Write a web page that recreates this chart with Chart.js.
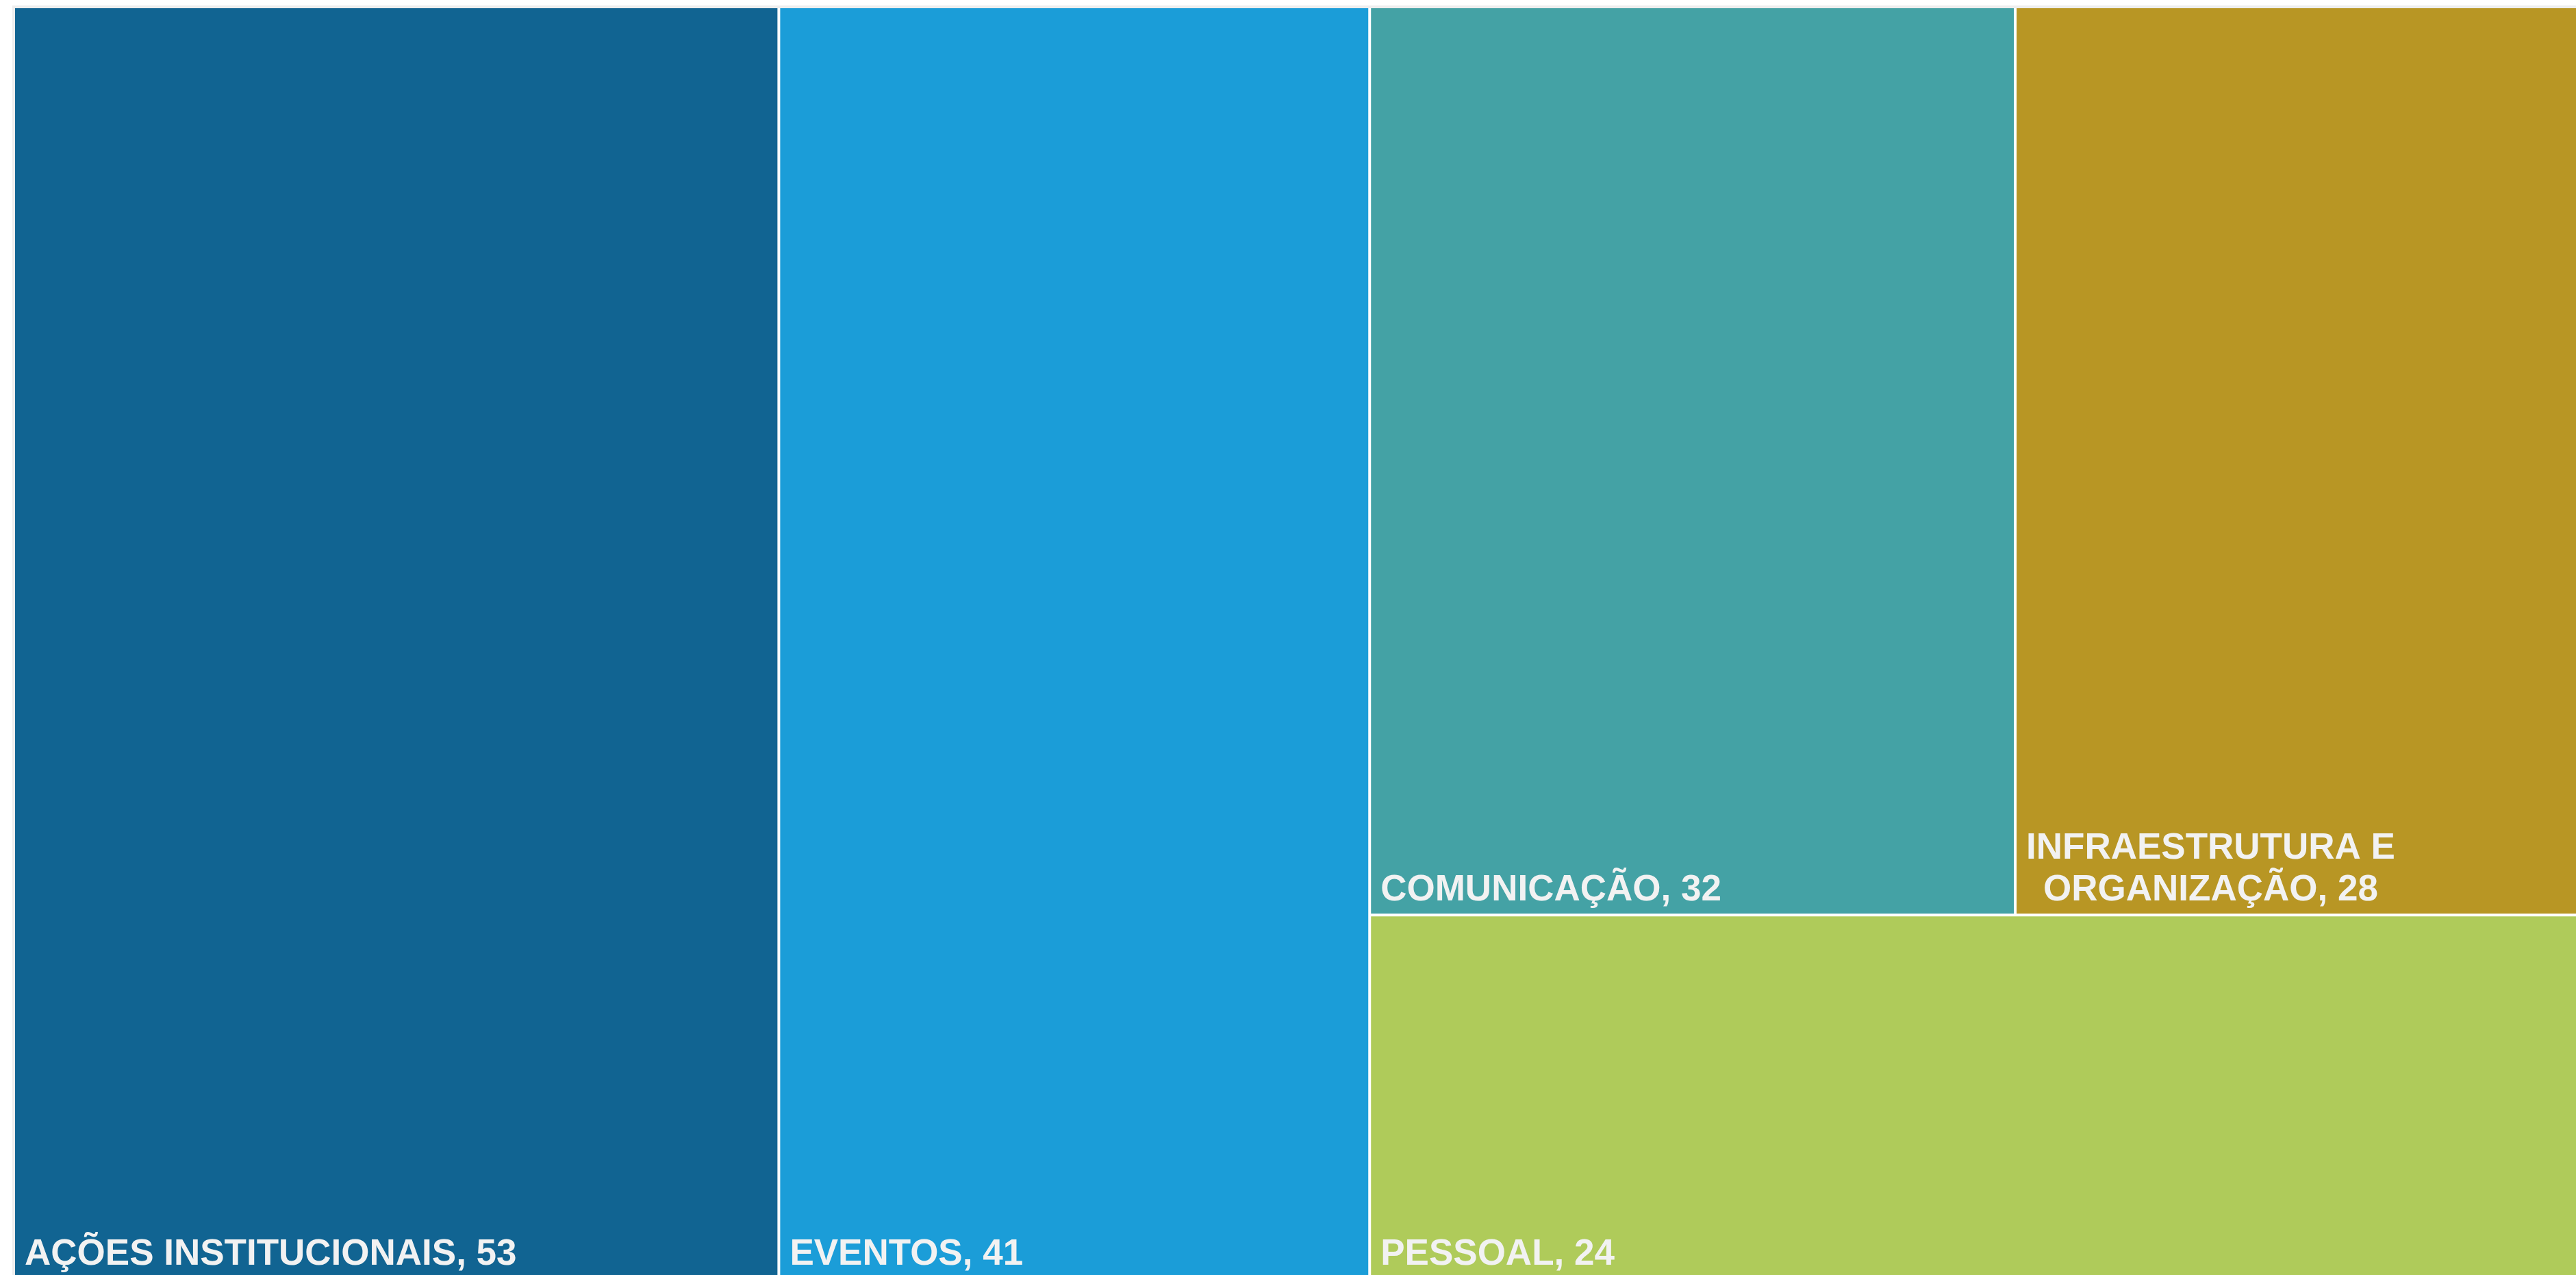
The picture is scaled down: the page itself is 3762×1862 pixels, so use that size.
<!DOCTYPE html>
<html>
<head>
<meta charset="utf-8">
<script src="https://cdn.jsdelivr.net/npm/chart.js@4.4.1/dist/chart.umd.min.js"></script>
<style>
    html, body { margin: 0; padding: 0; background: #ffffff; overflow: hidden; }
</style>
</head>
<body>
<canvas id="tree" width="3768" height="1866"></canvas>
<script>
const categories = ['AÇÕES INSTITUCIONAIS', 'EVENTOS', 'COMUNICAÇÃO', 'INFRAESTRUTURA E ORGANIZAÇÃO', 'PESSOAL'];
const values = [53, 41, 32, 28, 24];
const colors = ['#116492', '#1b9dd8', '#44a2a5', '#b89624', '#afcb5a'];
// how many consecutive categories share one vertical strip
const stripSizes = [1, 1, 3];

const total = values.reduce(function (a, b) { return a + b; }, 0);

function worst(areas, side) {
    const s = areas.reduce(function (a, b) { return a + b; }, 0);
    let w = 0;
    areas.forEach(function (a) {
        const r = Math.max(side * side * a / (s * s), (s * s) / (side * side * a));
        if (r > w) w = r;
    });
    return w;
}

function squarify(items, rect, out) {
    let rest = items.slice();
    let r = Object.assign({}, rect);
    while (rest.length) {
        const side = Math.min(r.w, r.h);
        const row = [rest[0]];
        let i = 1;
        while (i < rest.length &&
            worst(row.concat([rest[i]]).map(function (o) { return o.a; }), side) <=
            worst(row.map(function (o) { return o.a; }), side)) {
            row.push(rest[i]);
            i++;
        }
        rest = rest.slice(i);
        const sum = row.reduce(function (s, o) { return s + o.a; }, 0);
        if (r.w >= r.h) {
            const cw = sum / r.h;
            let y = r.y;
            row.forEach(function (o) { const h = o.a / cw; out[o.i] = { x: r.x, y: y, w: cw, h: h }; y += h; });
            r = { x: r.x + cw, y: r.y, w: r.w - cw, h: r.h };
        } else {
            const rh = sum / r.w;
            let x = r.x;
            row.forEach(function (o) { const w = o.a / rh; out[o.i] = { x: x, y: r.y, w: w, h: rh }; x += w; });
            r = { x: r.x, y: r.y + rh, w: r.w, h: r.h - rh };
        }
    }
}

// layout in x-units; k = area height expressed in x-units
function buildLayout(k) {
    const out = [];
    let idx = 0, x = 0;
    stripSizes.forEach(function (n) {
        const items = [];
        let sum = 0;
        for (let j = 0; j < n; j++) {
            items.push({ i: idx + j, a: values[idx + j] * k });
            sum += values[idx + j];
        }
        squarify(items, { x: x, y: 0, w: sum, h: k }, out);
        x += sum;
        idx += n;
    });
    return out;
}

function wrapText(ctx, text, maxW) {
    const words = text.split(' ');
    const lines = [];
    let line = '';
    words.forEach(function (w) {
        const test = line ? line + ' ' + w : w;
        if (line && ctx.measureText(test).width > maxW) {
            lines.push(line);
            line = w;
        } else {
            line = test;
        }
    });
    if (line) lines.push(line);
    return lines;
}

const treemapPlugin = {
    id: 'treemapRects',
    afterDraw: function (chart) {
        const ctx = chart.ctx;
        const area = chart.chartArea;
        const xs = chart.scales.x, ys = chart.scales.y;
        const k = total * (area.bottom - area.top) / (area.right - area.left);
        const rects = buildLayout(k);
        const eps = 1e-6, gap = 2, pad = 14;

        ctx.save();
        ctx.strokeStyle = '#eeeeee';
        ctx.lineWidth = 4;
        ctx.strokeRect(area.left - 2, area.top - 2, area.right - area.left + 4, area.bottom - area.top + 4);

        rects.forEach(function (r, i) {
            let l = xs.getPixelForValue(r.x);
            let rt = xs.getPixelForValue(r.x + r.w);
            let t = ys.getPixelForValue(r.y / k);
            let b = ys.getPixelForValue((r.y + r.h) / k);
            if (r.x > eps) l += gap;
            if (r.x + r.w < total - eps) rt -= gap;
            if (r.y > eps) t += gap;
            if (r.y + r.h < k - eps) b -= gap;
            ctx.fillStyle = colors[i];
            ctx.fillRect(l, t, rt - l, b - t);

            ctx.font = 'bold 53px "Liberation Sans", Arial, sans-serif';
            ctx.fillStyle = '#f2f2f2';
            ctx.textBaseline = 'alphabetic';
            ctx.textAlign = 'center';
            const lines = wrapText(ctx, categories[i] + ', ' + values[i], rt - l - 2 * pad);
            const blockW = Math.max.apply(null, lines.map(function (s) { return ctx.measureText(s).width; }));
            const cx = l + pad + blockW / 2;
            const lineH = 61;
            lines.forEach(function (s, j) {
                const base = b - 19 - (lines.length - 1 - j) * lineH;
                ctx.fillText(s, cx, base);
            });
        });
        ctx.restore();
    }
};

new Chart(document.getElementById('tree'), {
    type: 'scatter',
    data: { datasets: [{ data: [] }] },
    options: {
        responsive: false,
        animation: false,
        layout: { padding: { left: 22, top: 12, right: 0, bottom: 0 } },
        plugins: { legend: { display: false }, tooltip: { enabled: false } },
        scales: {
            x: { type: 'linear', display: false, min: 0, max: total },
            y: { type: 'linear', display: false, min: 0, max: 1, reverse: true }
        }
    },
    plugins: [treemapPlugin]
});
</script>
</body>
</html>
